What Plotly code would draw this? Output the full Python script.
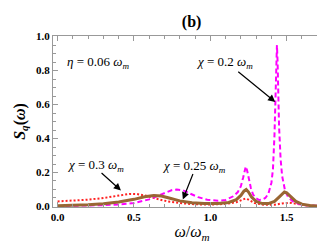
import plotly.graph_objects as go

# chi = 0.2 (magenta dashed)
w_a = [0.0, 0.1, 0.2, 0.3, 0.4, 0.5, 0.6, 0.65, 0.7, 0.75, 0.78, 0.82, 0.87, 0.92, 0.98, 1.05, 1.1,
       1.15, 1.18, 1.2, 1.215, 1.225, 1.232, 1.24, 1.25, 1.265, 1.28, 1.3, 1.32, 1.34, 1.36, 1.38,
       1.4, 1.41, 1.42, 1.427, 1.432, 1.436, 1.44, 1.445, 1.45, 1.46, 1.47, 1.49, 1.51, 1.54, 1.58,
       1.62, 1.68, 1.75]
s_a = [0.002, 0.003, 0.005, 0.008, 0.012, 0.02, 0.042, 0.06, 0.08, 0.097, 0.1, 0.095, 0.075, 0.055,
       0.04, 0.034, 0.038, 0.06, 0.085, 0.12, 0.17, 0.215, 0.235, 0.215, 0.165, 0.11, 0.07, 0.048,
       0.038, 0.04, 0.05, 0.075, 0.14, 0.22, 0.42, 0.66, 0.86, 0.95, 0.86, 0.66, 0.47, 0.28, 0.18,
       0.09, 0.055, 0.03, 0.015, 0.008, 0.004, 0.002]

# chi = 0.25 (brown solid)
w_b = [0.0, 0.1, 0.2, 0.3, 0.4, 0.5, 0.57, 0.63, 0.68, 0.73, 0.8, 0.88, 0.96, 1.05, 1.12, 1.17,
       1.2, 1.22, 1.235, 1.25, 1.27, 1.3, 1.34, 1.38, 1.42, 1.45, 1.47, 1.485, 1.5, 1.53, 1.56, 1.6,
       1.65, 1.7, 1.75]
s_b = [0.005, 0.007, 0.01, 0.016, 0.026, 0.042, 0.057, 0.065, 0.062, 0.05, 0.033, 0.022, 0.017,
       0.017, 0.024, 0.04, 0.065, 0.09, 0.1, 0.085, 0.055, 0.03, 0.017, 0.017, 0.03, 0.055, 0.075,
       0.085, 0.08, 0.055, 0.03, 0.014, 0.006, 0.003, 0.002]

# chi = 0.3 (red dotted)
w_c = [0.0, 0.1, 0.2, 0.3, 0.4, 0.47, 0.52, 0.58, 0.65, 0.72, 0.8, 0.9, 1.0, 1.1, 1.17, 1.21,
       1.23, 1.25, 1.29, 1.35, 1.42, 1.47, 1.52, 1.57, 1.62, 1.7, 1.75]
s_c = [0.03, 0.033, 0.04, 0.05, 0.065, 0.074, 0.073, 0.063, 0.045, 0.03, 0.02, 0.013, 0.011,
       0.015, 0.025, 0.04, 0.047, 0.04, 0.02, 0.01, 0.01, 0.018, 0.022, 0.015, 0.007, 0.002, 0.001]

x_ticks = [0.0, 0.5, 1.0, 1.5]
x_tick_text = ["0.0", "0.5", "1.0", "1.5"]
y_ticks = [0.0, 0.2, 0.4, 0.6, 0.8, 1.0]
y_tick_text = ["0.0", "0.2", "0.4", "0.6", "0.8", "1.0"]

SERIF = "Liberation Serif, Times New Roman, Times, serif"
FRAME = "#999999"

fig = go.Figure()
fig.add_trace(go.Scatter(x=w_c, y=s_c, mode="lines",
                         line=dict(color="#ff2020", width=2, dash="2px,2px")))
fig.add_trace(go.Scatter(x=w_a, y=s_a, mode="lines",
                         line=dict(color="#ff00ff", width=2, dash="5px,3px")))
fig.add_trace(go.Scatter(x=w_b, y=s_b, mode="lines",
                         line=dict(color="#996633", width=3)))

ann_font = dict(family=SERIF, size=13, color="black")
fig.add_annotation(x=0.265, y=0.845, text="<i>η</i> = 0.06 <i>ω<sub>m</sub></i>",
                   showarrow=False, font=ann_font)
fig.add_annotation(x=1.09, y=0.845, text="<i>χ</i> = 0.2 <i>ω<sub>m</sub></i>",
                   showarrow=False, font=ann_font)
fig.add_annotation(x=0.25, y=0.24, text="<i>χ</i> = 0.3 <i>ω<sub>m</sub></i>",
                   showarrow=False, font=ann_font)
fig.add_annotation(x=0.89, y=0.235, text="<i>χ</i> = 0.25 <i>ω<sub>m</sub></i>",
                   showarrow=False, font=ann_font)

arrow = dict(showarrow=True, arrowhead=2, arrowsize=1.2, arrowwidth=1.2, arrowcolor="black",
             axref="x", ayref="y", text="")
fig.add_annotation(x=1.425, y=0.615, ax=1.173, ay=0.80, **arrow)
fig.add_annotation(x=0.415, y=0.094, ax=0.278, ay=0.205, **arrow)
fig.add_annotation(x=0.82, y=0.041, ax=0.89, ay=0.2, **arrow)

axis_common = dict(showline=True, linecolor=FRAME, linewidth=1, mirror="allticks",
                   ticks="inside", ticklen=5, tickcolor=FRAME, showgrid=False, zeroline=False,
                   tickfont=dict(family=SERIF, size=11, color="black", weight="bold"))

fig.update_xaxes(range=[-0.03, 1.79], tickvals=x_ticks, ticktext=x_tick_text,
                 minor=dict(dtick=0.1, ticks="inside", ticklen=3, tickcolor=FRAME),
                 title=dict(text="<i>ω</i>/<i>ω<sub>m</sub></i>",
                            font=dict(family=SERIF, size=16, color="black"), standoff=3),
                 **axis_common)
fig.update_yaxes(range=[-0.003, 1.003], tickvals=y_ticks, ticktext=y_tick_text,
                 minor=dict(dtick=0.05, ticks="inside", ticklen=3, tickcolor=FRAME),
                 title=dict(text="<b><i>S<sub>q</sub></i>(<i>ω</i>)</b>",
                            font=dict(family=SERIF, size=16, color="black"), standoff=6),
                 **axis_common)

fig.update_layout(
    width=325, height=243,
    margin=dict(l=45, r=2, t=28, b=44),
    paper_bgcolor="white", plot_bgcolor="white",
    showlegend=False,
    title=dict(text="<b>(b)</b>", x=0.565, xanchor="center", y=0.945, yanchor="middle",
               font=dict(family=SERIF, size=16, color="black")),
)

fig.write_html("out.html")
